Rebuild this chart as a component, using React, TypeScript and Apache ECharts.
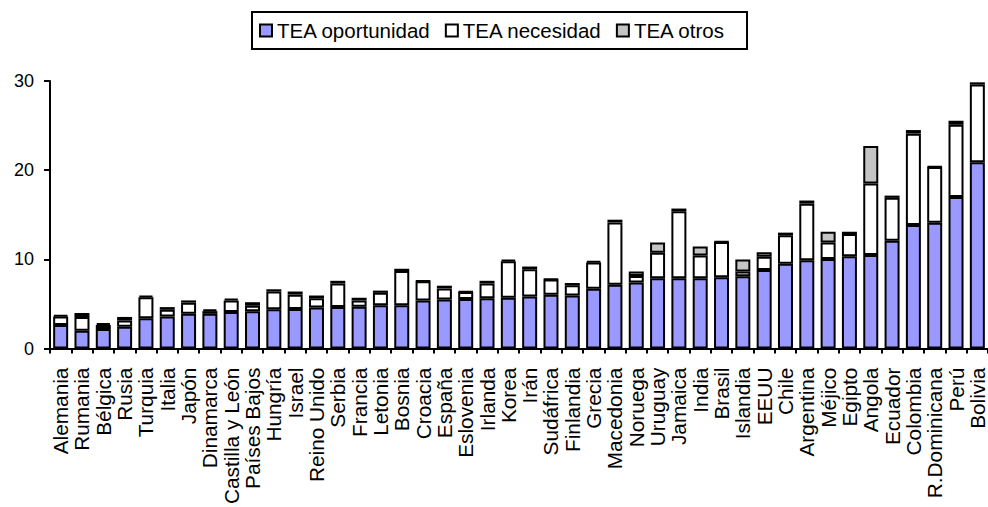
import React, { useEffect, useRef } from "react";
import * as echarts from "echarts";

const categories = [
  "Alemania", "Rumania", "Bélgica", "Rusia", "Turquia", "Italia", "Japón", "Dinamarca",
  "Castilla y León", "Países Bajos", "Hungría", "Israel", "Reino Unido", "Serbia", "Francia",
  "Letonia", "Bosnia", "Croacia", "España", "Eslovenia", "Irlanda", "Korea", "Irán",
  "Sudáfrica", "Finlandia", "Grecia", "Macedonia", "Noruega", "Uruguay", "Jamaica", "India",
  "Brasil", "Islandia", "EEUU", "Chile", "Argentina", "Méjico", "Egipto", "Angola", "Ecuador",
  "Colombia", "R.Dominicana", "Perú", "Bolivia",
];

const teaOportunidad = [
  2.65, 2.0, 2.2, 2.45, 3.4, 3.6, 3.9, 3.9, 4.1, 4.2, 4.4, 4.45, 4.6, 4.65, 4.7, 4.85, 4.85,
  5.4, 5.5, 5.55, 5.65, 5.7, 5.85, 6.05, 5.95, 6.7, 7.15, 7.4, 7.9, 7.9, 7.9, 8.0, 8.1, 8.8,
  9.5, 9.9, 10.05, 10.35, 10.5, 12.1, 13.85, 14.1, 17.0, 20.9,
];

const teaNecesidad = [
  0.95, 1.55, 0.45, 0.7, 2.35, 0.75, 1.25, 0.3, 1.3, 0.6, 2.0, 1.6, 1.05, 2.65, 0.7, 1.4, 3.85,
  2.15, 1.25, 0.8, 1.65, 4.1, 3.05, 1.7, 1.15, 2.95, 7.0, 0.75, 2.85, 7.5, 2.55, 3.95, 0.55, 1.5,
  3.2, 6.35, 1.85, 2.5, 8.0, 4.8, 10.25, 6.25, 8.1, 8.7,
];

const teaOtros = [
  0.15, 0.45, 0.2, 0.4, 0.2, 0.3, 0.25, 0.2, 0.2, 0.4, 0.25, 0.35, 0.3, 0.3, 0.3, 0.25, 0.25,
  0.05, 0.3, 0.05, 0.3, 0.15, 0.3, 0.05, 0.25, 0.15, 0.3, 0.5, 1.15, 0.3, 1.0, 0.05, 1.35, 0.5,
  0.3, 0.35, 1.2, 0.25, 4.2, 0.25, 0.4, 0.05, 0.45, 0.25,
];

const yTicks = { min: 0, max: 30, interval: 10 };

const FONT = "'Liberation Sans', Arial, sans-serif";

export default function App() {
  const ref = useRef<HTMLDivElement>(null);

  useEffect(() => {
    if (!ref.current) return;
    const chart = echarts.init(ref.current, undefined, { renderer: "svg" });
    const barStyle = (color: string) => ({
      color,
      borderColor: "#000",
      borderWidth: 2,
    });
    chart.setOption({
      animation: false,
      backgroundColor: "#fff",
      textStyle: { fontFamily: FONT, color: "#000" },
      legend: {
        left: 252,
        top: 12,
        padding: [8, 22, 8, 7],
        itemWidth: 12,
        itemHeight: 12,
        itemGap: 14,
        icon: "rect",
        borderColor: "#000",
        borderWidth: 2,
        backgroundColor: "#fff",
        textStyle: { fontFamily: FONT, fontSize: 20.5, color: "#000" },
        data: ["TEA oportunidad", "TEA necesidad", "TEA otros"],
      },
      grid: { left: 50, top: 81, width: 944, height: 272, containLabel: false },
      xAxis: {
        type: "category",
        data: categories,
        axisLine: { lineStyle: { color: "#000", width: 2 } },
        axisTick: { show: true, length: 5, lineStyle: { color: "#000", width: 2 } },
        axisLabel: {
          interval: 0,
          rotate: 90,
          margin: 19,
          fontSize: 20.8,
          fontFamily: FONT,
          color: "#000",
        },
      },
      yAxis: {
        type: "value",
        min: yTicks.min,
        max: yTicks.max,
        interval: yTicks.interval,
        axisLine: { show: true, lineStyle: { color: "#000", width: 2 } },
        axisTick: { show: true, length: 6, lineStyle: { color: "#000", width: 2 } },
        splitLine: { show: false },
        axisLabel: { margin: 16, fontSize: 18, fontFamily: FONT, color: "#000" },
      },
      series: [
        {
          name: "TEA oportunidad",
          type: "bar",
          stack: "tea",
          barWidth: 15,
          data: teaOportunidad,
          itemStyle: barStyle("#9999ff"),
        },
        {
          name: "TEA necesidad",
          type: "bar",
          stack: "tea",
          barWidth: 15,
          data: teaNecesidad,
          itemStyle: barStyle("#ffffff"),
        },
        {
          name: "TEA otros",
          type: "bar",
          stack: "tea",
          barWidth: 15,
          data: teaOtros,
          itemStyle: barStyle("#c4c4c4"),
        },
      ],
    });
    return () => chart.dispose();
  }, []);

  return (
    <div
      ref={ref}
      style={{ position: "fixed", left: 0, top: 0, width: 988, height: 507, background: "#fff" }}
    />
  );
}
